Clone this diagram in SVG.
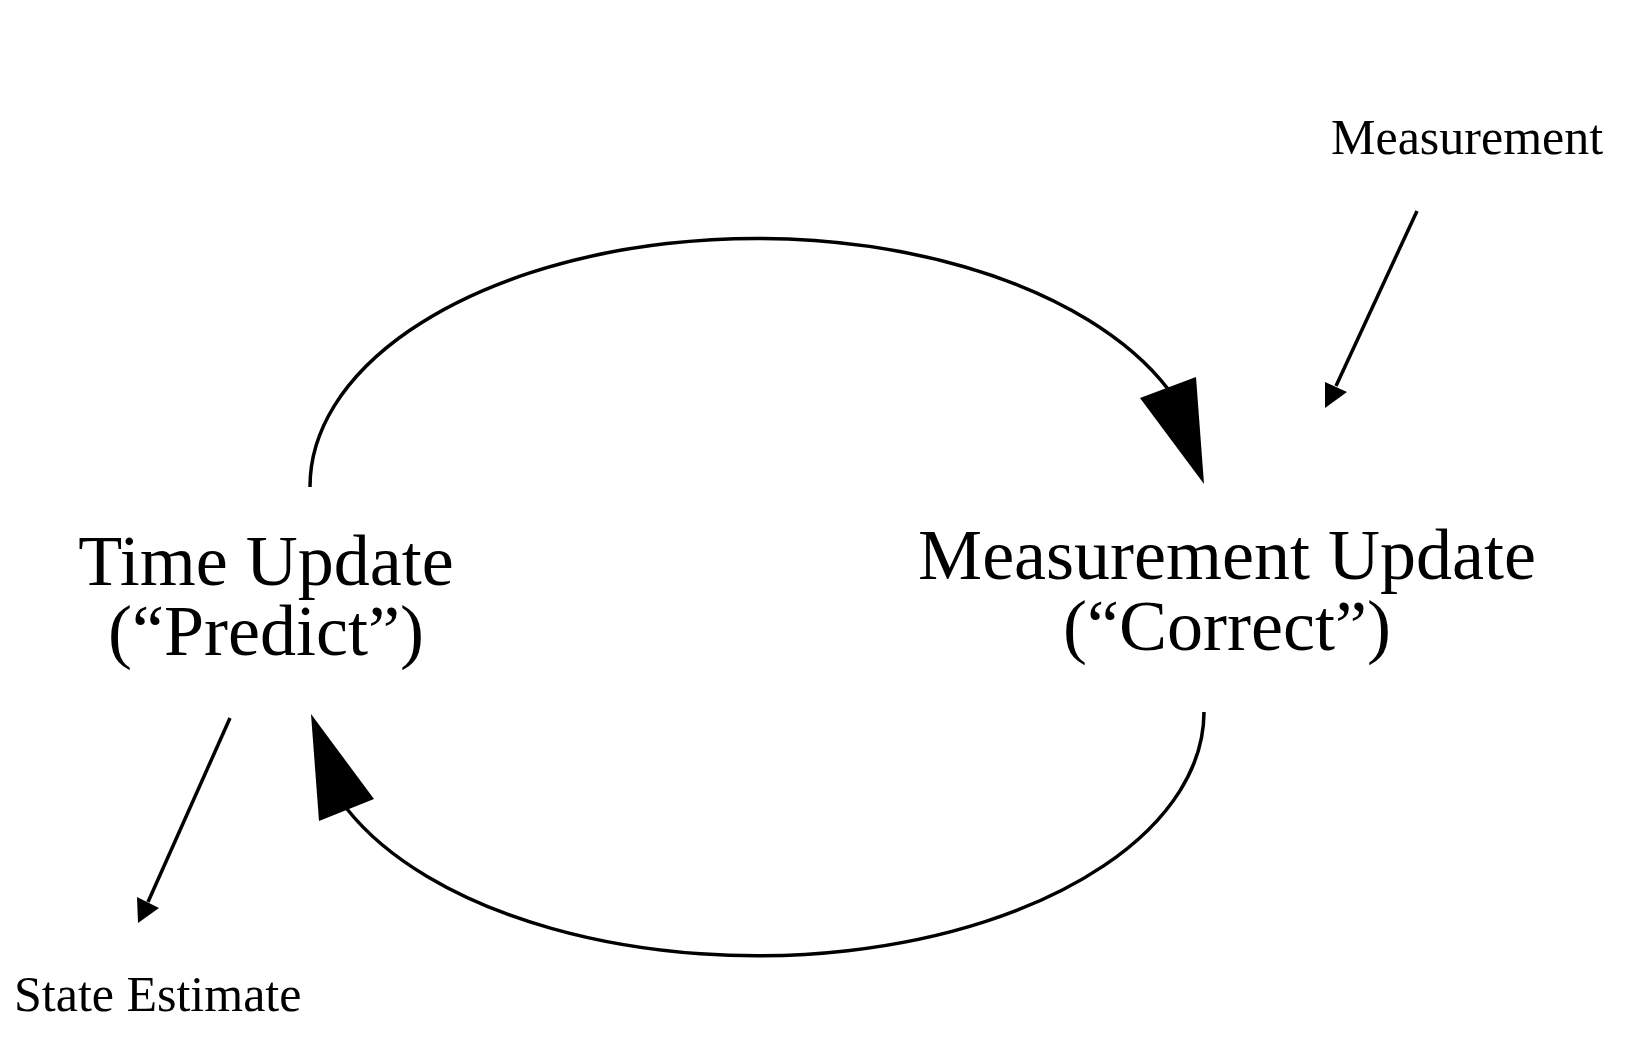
<svg xmlns="http://www.w3.org/2000/svg" width="1644" height="1052" viewBox="0 0 1644 1052">
<style>
.big{font-family:"Liberation Serif","Times New Roman",serif;font-size:72px;fill:#000;text-anchor:middle}
.small{font-family:"Liberation Serif","Times New Roman",serif;font-size:50px;fill:#000}
.line{fill:none;stroke:#000;stroke-width:3.5}
.head{fill:#000;stroke:none}
</style>
<rect width="1644" height="1052" fill="#fff"/>
<g id="connectors">
<path class="line" d="M310,487 A447,248 0 0 1 1168,389"/>
<polygon class="head" points="1204,484 1140,398 1196,377"/>
<path class="line" d="M1204,712 A447,244 0 0 1 347,809"/>
<polygon class="head" points="311,714 319,821 374,799"/>
<line class="line" x1="1417" y1="211" x2="1336" y2="386"/>
<polygon class="head" points="1325,408 1325,382 1347,392"/>
<line class="line" x1="230" y1="718" x2="148" y2="902"/>
<polygon class="head" points="138,923 137,897 159,908"/>
</g>
<g id="time-update">
<text class="big" x="266" y="585">Time Update</text>
<text class="big" x="266" y="655">(“Predict”)</text>
</g>
<g id="measurement-update">
<text class="big" x="1227" y="579">Measurement Update</text>
<text class="big" x="1227" y="650">(“Correct”)</text>
</g>
<g id="measurement">
<text class="small" x="1331" y="154">Measurement</text>
</g>
<g id="state-estimate">
<text class="small" x="14" y="1011">State Estimate</text>
</g>
</svg>
